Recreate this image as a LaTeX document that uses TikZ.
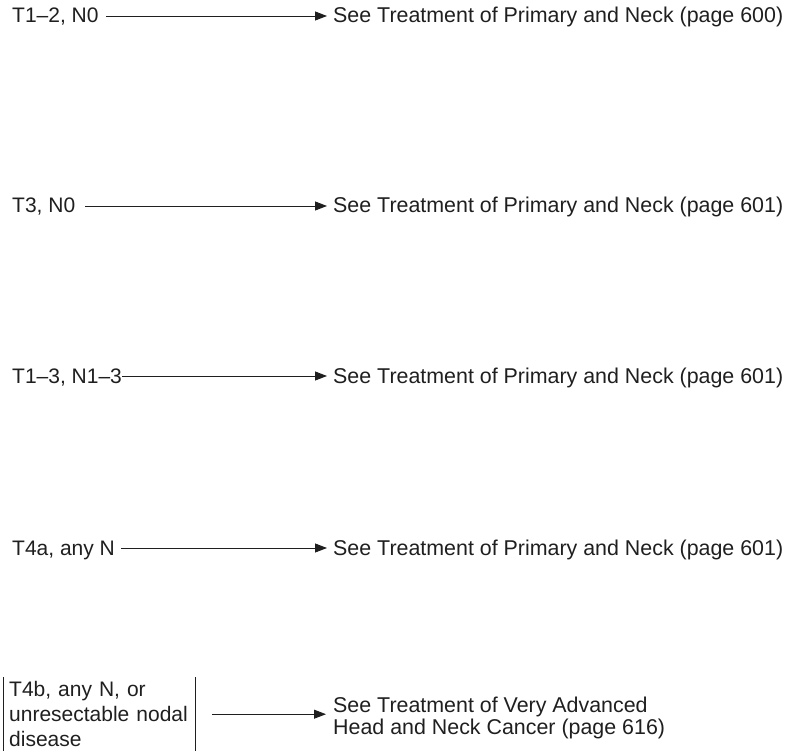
\documentclass[tikz,border=0pt]{standalone}
\usepackage{fontspec}
\setmainfont{Liberation Sans}
\usetikzlibrary{arrows.meta}
\begin{document}
\begin{tikzpicture}[x=1pt,y=-1pt,
  lbl/.style={inner sep=0pt,text height=18pt,text depth=4pt,
    font=\fontsize{21}{25}\selectfont,text=black!88},
  dest/.style={lbl,font=\fontsize{21.4}{25}\selectfont},
  multi/.style={inner sep=0pt,align=left,text=black!88},
  arr/.style={line width=0.9pt,draw=black!88,
    -{Triangle[length=12pt,width=9pt]}}]
\useasboundingbox (0,0) rectangle (795,751);

% stage rows
\node[lbl,anchor=base west]  (l1) at (12,23)   {T1–2, N0};
\node[dest,anchor=base west] (r1) at (333,23)  {See Treatment of Primary and Neck (page 600)};
\node[lbl,anchor=base west]  (l2) at (12,213)  {T3, N0};
\node[dest,anchor=base west] (r2) at (333,213) {See Treatment of Primary and Neck (page 601)};
\node[lbl,anchor=base west]  (l3) at (12,383)  {T1–3, N1–3};
\node[dest,anchor=base west] (r3) at (333,383) {See Treatment of Primary and Neck (page 601)};
\node[lbl,anchor=base west]  (l4) at (12,555)  {T4a, any N};
\node[dest,anchor=base west] (r4) at (333,555) {See Treatment of Primary and Neck (page 601)};

\draw[arr,shorten <=7pt,shorten >=6pt]  (l1.east) -- (l1.east -| r1.west);
\draw[arr,shorten <=10pt,shorten >=6pt] (l2.east) -- (l2.east -| r2.west);
\draw[arr,shorten <=0pt,shorten >=6pt]  (l3.east) -- (l3.east -| r3.west);
\draw[arr,shorten <=6pt,shorten >=6pt]  (l4.east) -- (l4.east -| r4.west);

% unresectable disease, bracketed by two rules
\node[multi,anchor=north west,minimum width=192pt,minimum height=74pt,
      inner xsep=6pt,text width=180pt,
      font=\fontsize{21}{25}\selectfont] (b5) at (3,677)
  {T4b, any N, or\\unresectable nodal\\disease};
\draw[line width=0.9pt,draw=black!88] (b5.north west) -- (b5.south west)
  (b5.north east) -- (b5.south east);
\node[multi,anchor=north west,font=\fontsize{21.4}{22}\selectfont] (r5) at (333,697)
  {See Treatment of Very Advanced\\Head and Neck Cancer (page 616)};
\draw[arr,shorten <=17pt,shorten >=7pt] (b5.east) -- (b5.east -| r5.west);
\end{tikzpicture}
\end{document}
